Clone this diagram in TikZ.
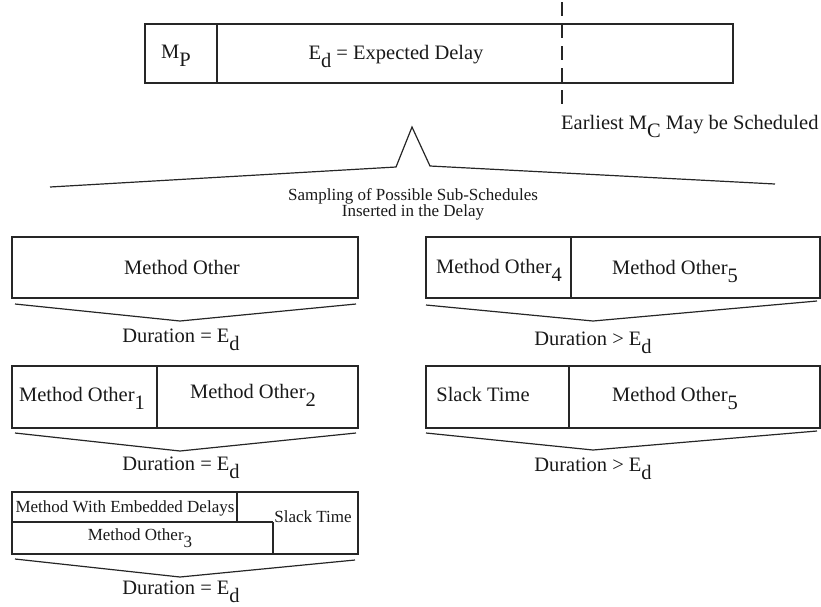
\documentclass[tikz,border=0pt]{standalone}
\usepackage{fontspec}
\usepackage{graphicx}
\setmainfont{Liberation Serif}
% full-size lowered subscript, as in E_d and M_P
\newcommand\lsub[1]{\raisebox{-0.42em}{#1}}
\begin{document}
\begin{tikzpicture}[x=1pt,y=-1pt,
  frame/.style={draw=black!85, line width=1.2pt, line join=miter},
  lab/.style={inner sep=0pt, anchor=base, text=black!90,
    font=\fontsize{20.5}{24}\selectfont},
  small/.style={lab, font=\fontsize{17}{20}\selectfont}]
\useasboundingbox (0,0) rectangle (821,606);

% ---- top schedule bar ----
\draw[frame] (145,24) rectangle (733,83);
\draw[frame] (217,24) -- (217,83);
\node[lab] (mp) at (176,58) {M\lsub{P}};
\node[lab] (ed) at (396,59) {E\lsub{d} = Expected Delay};
\draw[draw=black!85, line width=1.2pt, dash pattern=on 14pt off 8pt] (562,2) -- (562,104);
\node[lab, anchor=base west] (earliest) at (561,129) {Earliest M\lsub{C} May be Scheduled};

% ---- expansion bracket ----
\draw[frame] (50,187) -- (396,167) -- (412,127) -- (430,166) -- (775,184);
\node[small] (samp1) at (413,200) {Sampling of Possible Sub-Schedules};
\node[small] (samp2) at (413,216) {Inserted in the Delay};

% ---- left column ----
\draw[frame] (12,237) rectangle (358,298);
\node[lab] (mo) at (182,274) {Method Other};
\draw[frame] (15,304) -- (180,321) -- (356,304);
\node[lab] (dur1) at (181,342) {Duration = E\lsub{d}};

\draw[frame] (12,366) rectangle (358,428);
\draw[frame] (157,366) -- (157,428);
\node[lab] (mo1) at (82,401) {Method Other\lsub{1}};
\node[lab] (mo2) at (253,398) {Method Other\lsub{2}};
\draw[frame] (15,433) -- (180,451) -- (356,433);
\node[lab] (dur2) at (181,470) {Duration = E\lsub{d}};

\draw[frame] (12,492) rectangle (358,554);
\draw[frame] (12,522) -- (273,522);
\draw[frame] (237,492) -- (237,522);
\draw[frame] (273,522) -- (273,554);
\node[small] (mwed) at (125,512) {Method With Embedded Delays};
\node[small] (mo3) at (140,540) {Method Other\lsub{3}};
\node[small] (slack1) at (313,522) {Slack Time};
\draw[frame] (15,559) -- (180,577) -- (355,560);
\node[lab] (dur3) at (181,594) {Duration = E\lsub{d}};

% ---- right column ----
\draw[frame] (426,237) rectangle (820,298);
\draw[frame] (571,237) -- (571,298);
\node[lab] (mo4) at (499,273) {Method Other\lsub{4}};
\node[lab] (mo5a) at (675,274) {Method Other\lsub{5}};
\draw[frame] (426,305) -- (593,321) -- (817,301);
\node[lab] (dur4) at (593,345) {Duration > E\lsub{d}};

\draw[frame] (426,366) rectangle (820,428);
\draw[frame] (569,366) -- (569,428);
\node[lab] (slack2) at (483,401) {Slack Time};
\node[lab] (mo5b) at (675,401) {Method Other\lsub{5}};
\draw[frame] (426,433) -- (593,450) -- (817,431);
\node[lab] (dur5) at (593,471) {Duration > E\lsub{d}};
\end{tikzpicture}
\end{document}
